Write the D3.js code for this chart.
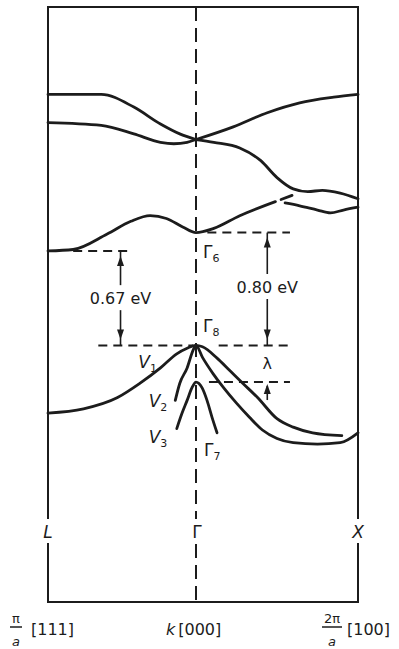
<!DOCTYPE html>
<html>
<head>
<meta charset="utf-8">
<script src="https://cdn.jsdelivr.net/npm/d3@7"></script>
<style>
body { margin: 0; background: #fff; }
text { font-family: "DejaVu Sans", sans-serif; fill: #1c1c1c; }
</style>
</head>
<body>
<svg id="chart" width="399" height="649"></svg>
<script>
// k: -1 = L (pi/a [111]), 0 = Gamma, +1 = X (2pi/a [100])
// E in eV, measured from the top of the valence band (Gamma8)
var gap_l = 0.67, gap_gamma = 0.80, split_off = 0.26;

// conduction bands (left and right halves meet at Gamma with a kink)
var band_a_left  = [[-1,1.78],[-0.64,1.78],[-0.42,1.69],[-0.24,1.57],[-0.11,1.50],[0,1.46]];
var band_a_right = [[0,1.46],[0.23,1.55],[0.44,1.65],[0.64,1.72],[0.85,1.76],[1,1.78]];
var band_b_left  = [[-1,1.58],[-0.64,1.56],[-0.42,1.50],[-0.24,1.44],[-0.15,1.43],[-0.06,1.44],[0,1.46]];
var band_b_right = [[0,1.46],[0.11,1.44],[0.27,1.40],[0.40,1.31],[0.50,1.19],[0.60,1.11],
                    [0.69,1.09],[0.78,1.10],[0.89,1.08],[1,1.04]];
var band_c       = [[-1,0.67],[-0.83,0.68],[-0.60,0.79],[-0.44,0.88],[-0.31,0.92],[-0.20,0.90],
                    [-0.09,0.84],[0,0.80],[0.11,0.83],[0.27,0.92],[0.49,1.02]];
var band_c_stub  = [[0.525,1.035],[0.593,1.064]];
var band_d       = [[0.55,1.01],[0.64,0.99],[0.75,0.96],[0.83,0.94],[0.91,0.96],[1,0.98]];

// valence bands
var band_v1 = [[-1,-0.48],[-0.76,-0.45],[-0.53,-0.37],[-0.38,-0.27],[-0.24,-0.16],[-0.13,-0.06],
               [-0.06,-0.02],[0,0],[0.04,-0.01],[0.13,-0.09],[0.21,-0.18],[0.29,-0.27],
               [0.38,-0.37],[0.50,-0.52],[0.60,-0.58],[0.72,-0.62],[0.90,-0.64]];
var band_v2 = [[-0.14,-0.39],[-0.11,-0.27],[-0.06,-0.16],[-0.02,-0.035],[0,0],[0.04,-0.085],
               [0.105,-0.20],[0.17,-0.30],[0.25,-0.41],[0.33,-0.51],[0.41,-0.60],[0.50,-0.66],
               [0.60,-0.69],[0.75,-0.70],[0.89,-0.69],[1,-0.62]];
var band_v3 = [[-0.13,-0.59],[-0.094,-0.48],[-0.06,-0.39],[-0.027,-0.30],[0,-0.26],
               [0.037,-0.30],[0.068,-0.39],[0.099,-0.51],[0.13,-0.62]];

var bands = [band_a_left, band_a_right, band_b_left, band_b_right, band_c,
             band_c_stub, band_d, band_v1, band_v2, band_v3];

// dashed reference levels: energy and k extent
var levels = [
    { e: gap_l,      k0: -0.83, k1: -0.45 },
    { e: 0,          k0: -0.66, k1: -0.02 },
    { e: 0,          k0:  0.14, k1:  0.58 },
    { e: gap_gamma,  k0:  0.07, k1:  0.58 },
    { e: -split_off, k0:  0.08, k1:  0.58 }
];
var gaps = [
    { k: -0.51, top: gap_l,     label: "0.67 eV" },
    { k:  0.44, top: gap_gamma, label: "0.80 eV" }
];
var k_labels = ["L", "\u0393", "X"];

var svg = d3.select("#chart");
var x = d3.scaleLinear().domain([-1, 0, 1]).range([48, 196, 358]);
var y = d3.scaleLinear().domain([-1.82, 2.40]).range([602, 7]);
var ink = "#1c1c1c";

/**************************** FRAME ******************************************/
var y_top = y(2.40), y_bot = y(-1.82), gap0 = 519, gap1 = 543;
var frame = svg.append("g")
    .attr("stroke", ink).attr("stroke-width", 2).attr("fill", "none");
frame.append("line").attr("x1", x(-1) - 1).attr("x2", x(1) + 1).attr("y1", y_top).attr("y2", y_top);
frame.append("line").attr("x1", x(-1) - 1).attr("x2", x(1) + 1).attr("y1", y_bot).attr("y2", y_bot);
[-1, 1].forEach(function(k) {
    frame.append("line").attr("x1", x(k)).attr("x2", x(k)).attr("y1", y_top).attr("y2", gap0);
    frame.append("line").attr("x1", x(k)).attr("x2", x(k)).attr("y1", gap1).attr("y2", y_bot);
});
// Gamma: dashed vertical
var gl = svg.append("g").attr("stroke", ink).attr("stroke-width", 2)
    .attr("stroke-dasharray", "14,7");
gl.append("line").attr("x1", x(0)).attr("x2", x(0)).attr("y1", y_top).attr("y2", gap0);
gl.append("line").attr("x1", x(0)).attr("x2", x(0)).attr("y1", gap1 + 1).attr("y2", y_bot);

/**************************** LEVELS, GAP ARROWS *****************************/
svg.append("g").selectAll("line").data(levels).enter().append("line")
    .attr("x1", function(d) { return x(d.k0); })
    .attr("x2", function(d) { return x(d.k1); })
    .attr("y1", function(d) { return y(d.e); })
    .attr("y2", function(d) { return y(d.e); })
    .attr("stroke", ink).attr("stroke-width", 2).attr("stroke-dasharray", "9,6");

function arrow_head(g, cx, tip, dir) {
    // dir = -1 points up, +1 points down
    g.append("path")
        .attr("d", "M" + cx + "," + tip + "L" + (cx - 3.5) + "," + (tip - dir * 10) +
                   "L" + (cx + 3.5) + "," + (tip - dir * 10) + "Z")
        .attr("fill", ink);
}

gaps.forEach(function(d) {
    var g = svg.append("g"), cx = x(d.k), yt = y(d.top), yb = y(0),
        mid = (yt + yb) / 2 + (d.k < 0 ? 2 : 0);
    g.append("line").attr("x1", cx).attr("x2", cx).attr("y1", yt).attr("y2", mid - 15)
        .attr("stroke", ink).attr("stroke-width", 1.6);
    g.append("line").attr("x1", cx).attr("x2", cx).attr("y1", mid + 10).attr("y2", yb)
        .attr("stroke", ink).attr("stroke-width", 1.6);
    arrow_head(g, cx, yt + 5, -1);
    arrow_head(g, cx, yb - 6, 1);
    g.append("text").attr("x", cx).attr("y", mid + 4).attr("text-anchor", "middle")
        .attr("font-size", 16).text(d.label);
});

// lambda: arrow from below up to the split-off level
var lg = svg.append("g"), lx = x(gaps[1].k);
lg.append("line").attr("x1", lx).attr("x2", lx).attr("y1", y(-split_off) + 4).attr("y2", y(-split_off) + 18)
    .attr("stroke", ink).attr("stroke-width", 1.6);
arrow_head(lg, lx, y(-split_off) + 2, -1);
lg.append("text").attr("x", lx).attr("y", y(-split_off / 2) + 5).attr("text-anchor", "middle")
    .attr("font-size", 16).text("\u03bb");

/**************************** BANDS ******************************************/
var line = d3.line()
    .x(function(d) { return x(d[0]); })
    .y(function(d) { return y(d[1]); })
    .curve(d3.curveMonotoneX);

svg.append("g").selectAll("path").data(bands).enter().append("path")
    .attr("d", line)
    .attr("fill", "none").attr("stroke", ink).attr("stroke-width", 2.8)
    .attr("stroke-linecap", "round").attr("stroke-linejoin", "round");

/**************************** LABELS *****************************************/
function sub_label(px, py, main, sub, italic) {
    var t = svg.append("text").attr("x", px).attr("y", py).attr("font-size", 17);
    t.append("tspan").attr("font-style", italic ? "italic" : "normal").text(main);
    t.append("tspan").attr("font-size", 11).attr("dy", 4).text(sub);
}
sub_label(x(0) + 7, y(gap_gamma) + 25, "\u0393", "6", false);
sub_label(x(0) + 7, y(0) - 13, "\u0393", "8", false);
sub_label(x(0) + 8, y(-split_off) + 74, "\u0393", "7", false);
sub_label(x(-0.39), y(-0.16), "V", "1", true);
sub_label(x(-0.32), y(-0.44), "V", "2", true);
sub_label(x(-0.32), y(-0.69), "V", "3", true);

svg.append("g").selectAll("text").data(k_labels).enter().append("text")
    .attr("x", function(d, i) { return x(i - 1) + (i === 1 ? 1 : 0); })
    .attr("y", 538)
    .attr("text-anchor", "middle")
    .attr("font-size", 17)
    .attr("font-style", function(d, i) { return i === 1 ? "normal" : "italic"; })
    .text(function(d) { return d; });

// bottom: k-point coordinates
function fraction(cx, num) {
    svg.append("text").attr("x", cx).attr("y", 623).attr("text-anchor", "middle")
        .attr("font-size", 13).text(num);
    svg.append("line").attr("x1", cx - 6 - (num.length - 1) * 4).attr("x2", cx + 6 + (num.length - 1) * 4)
        .attr("y1", 627).attr("y2", 627).attr("stroke", ink).attr("stroke-width", 1.5);
    svg.append("text").attr("x", cx).attr("y", 646).attr("text-anchor", "middle")
        .attr("font-size", 13).attr("font-style", "italic").text("a");
}
fraction(16, "\u03c0");
svg.append("text").attr("x", 31).attr("y", 635).attr("font-size", 16).text("[111]");
var kt = svg.append("text").attr("x", 166).attr("y", 635).attr("font-size", 16);
kt.append("tspan").attr("font-style", "italic").text("k");
kt.append("tspan").attr("dx", 3).text("[000]");
fraction(332, "2\u03c0");
svg.append("text").attr("x", 347).attr("y", 635).attr("font-size", 16).text("[100]");
</script>
</body>
</html>
